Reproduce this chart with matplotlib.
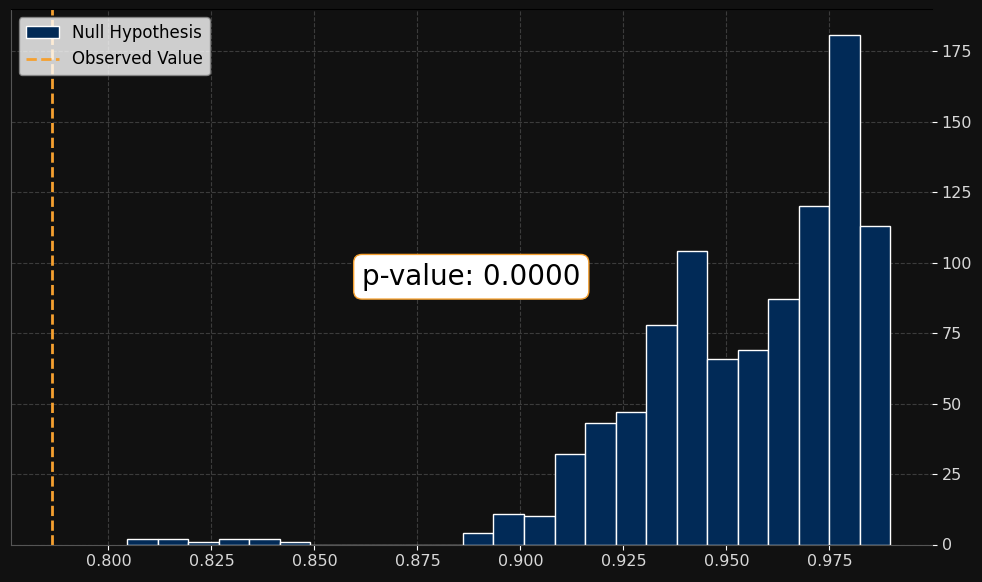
import numpy as np
import matplotlib
matplotlib.use("Agg")
import matplotlib.pyplot as plt

# histogram of the null distribution (25 equal bins)
bin_min = 0.80461
bin_max = 0.98973
counts = [2, 2, 1, 2, 2, 1,
          0, 0, 0, 0, 0,
          4, 11, 10, 32, 43, 47, 78, 104, 66, 69, 87, 120, 181, 113]
observed_value = 0.7864
p_value = 0.0

edges = np.linspace(bin_min, bin_max, len(counts) + 1)
centers = (edges[:-1] + edges[1:]) / 2

bg = "#111111"
fig = plt.figure(figsize=(9.82, 5.82), dpi=100, facecolor=bg)
ax = fig.add_axes([10.5 / 982, 1 - 544.5 / 582, (932 - 10.5) / 982, (544.5 - 9) / 582])
ax.set_facecolor(bg)

ax.hist(centers, bins=edges, weights=counts, color="#012a57", edgecolor="white",
        linewidth=1.0, label="Null Hypothesis")
ax.axvline(observed_value, color="#f5a030", linestyle="--", linewidth=2,
           label="Observed Value")

ax.set_xlim(0.77624, 0.9999)
ax.set_ylim(0, 190.05)

ax.grid(True, linestyle="--", color="#3c3c3c", linewidth=0.8)
ax.set_axisbelow(True)

ax.yaxis.tick_right()
ax.tick_params(colors="white", labelcolor="#d8d8d8", labelsize=11.5)

for side in ["left", "bottom"]:
    ax.spines[side].set_color("#555555")
ax.spines["top"].set_color("black")
ax.spines["right"].set_visible(False)

ax.text(0.5, 0.5, f"p-value: {p_value:.4f}", transform=ax.transAxes,
        ha="center", va="center", fontsize=20, color="black",
        bbox=dict(boxstyle="round,pad=0.3", facecolor="white", edgecolor="#f5a030"))

leg = ax.legend(loc="upper left", fontsize=12, facecolor="white", framealpha=0.8,
                edgecolor="#888888")
for t in leg.get_texts():
    t.set_color("black")

fig.savefig("out.png", dpi=100, facecolor=bg)
